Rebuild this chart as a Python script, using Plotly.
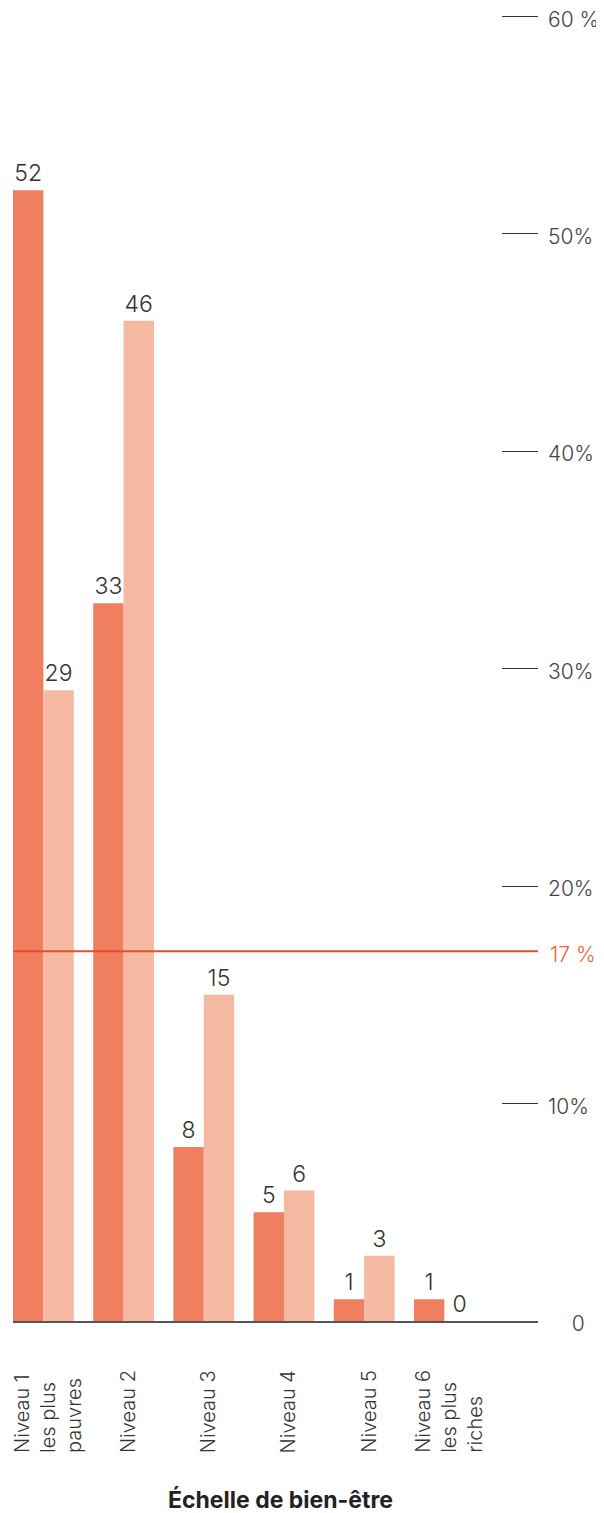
import plotly.graph_objects as go

categories = ["Niveau 1<br>les plus<br>pauvres", "Niveau 2", "Niveau 3", "Niveau 4", "Niveau 5",
              "Niveau 6<br>les plus<br>riches"]
series_a = [52, 33, 8, 5, 1, 1]
series_b = [29, 46, 15, 6, 3, 0]
tick_vals = [0, 10, 20, 30, 40, 50, 60]
tick_text = ["\u00a0\u00a0\u00a0\u00a00", "10%", "20%", "30%", "40%", "50%", "60 %"]
ref_value = 17
ref_label = "17 %"
x_title = "Échelle de bien-être"

FONT = "Inter"
x = list(range(len(categories)))

fig = go.Figure()
for vals, col in ((series_a, "#ef7f5f"), (series_b, "#f5b9a1")):
    fig.add_trace(go.Bar(x=x, y=vals, marker=dict(color=col, line=dict(width=0)),
                         text=[str(v) for v in vals], textposition="outside", cliponaxis=False,
                         textfont=dict(family=FONT, size=23, color="#333", weight=300)))

fig.update_layout(
    width=596, height=1505,
    margin=dict(l=5, r=66, t=6, b=192),
    barmode="group", bargap=0.242, bargroupgap=0,
    showlegend=False,
    plot_bgcolor="white", paper_bgcolor="white",
    font=dict(family=FONT, color="#444"),
    xaxis=dict(range=[-0.379, 6.168], showticklabels=False, ticks="", showgrid=False,
               zeroline=False, showline=True, linecolor="#555", linewidth=2, automargin=False),
    yaxis=dict(range=[0, 60.1], side="right", tickvals=tick_vals, ticktext=tick_text,
               ticks="inside", ticklen=36, tickcolor="#333", tickwidth=1.3,
               showgrid=False, zeroline=False, showline=False, automargin=False,
               ticklabelstandoff=9, ticklabelshift=3, ticklabeloverflow="allow",
               tickfont=dict(family=FONT, size=21, color="#444", weight=300)),
)

fig.add_shape(type="line", xref="paper", yref="y", x0=0, x1=1, y0=ref_value, y1=ref_value,
              line=dict(color="#e0502c", width=2), layer="above")
fig.add_annotation(xref="paper", yref="y", x=1, y=ref_value, xshift=10, yshift=-3, xanchor="left",
                   text=ref_label, showarrow=False,
                   font=dict(family=FONT, size=21, color="#f0603c", weight=300))

for i, c in enumerate(categories):
    fig.add_annotation(xref="x", yref="paper", x=i, y=0, yshift=-134, xshift=4, yanchor="bottom",
                       xanchor="center", text=c, textangle=-90, align="left", showarrow=False,
                       font=dict(family=FONT, size=20, color="#333", weight=300))

fig.add_annotation(xref="paper", yref="paper", x=0.5086, y=0, yshift=-179,
                   xanchor="center", yanchor="middle", text="<b>" + x_title + "</b>",
                   showarrow=False, font=dict(family=FONT, size=23, color="#222"))

fig.write_html("out.html")
